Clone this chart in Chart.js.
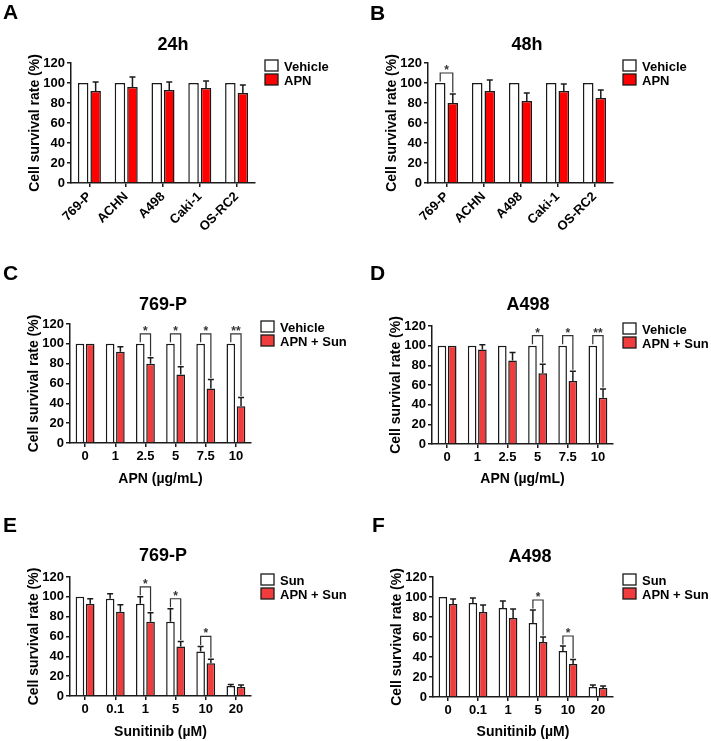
<!DOCTYPE html>
<html>
<head>
<meta charset="utf-8">
<script src="https://cdn.jsdelivr.net/npm/chart.js@4.4.1/dist/chart.umd.min.js"></script>
<style>
  body { margin: 0; background: #fff; }
  #wrap { position: relative; width: 711px; height: 741px; background: #fff; }
  canvas { position: absolute; }
</style>
</head>
<body>
<div id="wrap">
  <canvas id="cA" width="355" height="232" style="left:0;top:0"></canvas>
  <canvas id="cB" width="356" height="232" style="left:355px;top:0"></canvas>
  <canvas id="cC" width="355" height="253" style="left:0;top:235px"></canvas>
  <canvas id="cD" width="356" height="253" style="left:355px;top:235px"></canvas>
  <canvas id="cE" width="355" height="253" style="left:0;top:488px"></canvas>
  <canvas id="cF" width="356" height="253" style="left:355px;top:488px"></canvas>
</div>
<script>
// categories
var cellLines = ['769-P', 'ACHN', 'A498', 'Caki-1', 'OS-RC2'];
var apnDoses = ['0', '1', '2.5', '5', '7.5', '10'];
var sunDoses = ['0', '0.1', '1', '5', '10', '20'];
var yMin = 0, yMax = 120, yStep = 20;

// A - 24h
var veh24 = [100, 100, 100, 100, 100];
var veh24Err = [0, 0, 0, 0, 0];
var apn24 = [92, 96, 93, 95, 90];
var apn24Err = [9, 10, 8, 7, 8];
var sig24 = ['', '', '', '', ''];

// B - 48h
var veh48 = [100, 100, 100, 100, 100];
var veh48Err = [0, 0, 0, 0, 0];
var apn48 = [80, 92, 82, 92, 85];
var apn48Err = [9, 11, 8, 7, 8];
var sig48 = ['*', '', '', '', ''];

// C - 769-P, APN dose
var vehC = [100, 100, 100, 100, 100, 100];
var vehCErr = [0, 0, 0, 0, 0, 0];
var apnSunC = [100, 92, 80, 69, 55, 37];
var apnSunCErr = [0, 5, 6, 8, 9, 9];
var sigC = ['', '', '*', '*', '*', '**'];

// D - A498, APN dose
var vehD = [100, 100, 100, 100, 100, 100];
var vehDErr = [0, 0, 0, 0, 0, 0];
var apnSunD = [100, 96, 85, 72, 64, 47];
var apnSunDErr = [0, 5, 8, 9, 10, 9];
var sigD = ['', '', '', '*', '*', '**'];

// E - 769-P, sunitinib dose
var sunE = [100, 98, 93, 75, 45, 10];
var sunEErr = [0, 5, 7, 13, 5, 1.5];
var apnSunE = [93, 85, 75, 50, 33, 9];
var apnSunEErr = [5, 7, 9, 5, 4, 2];
var sigE = ['', '', '*', '*', '*', ''];

// F - A498, sunitinib dose
var sunF = [100, 94, 89, 74, 46, 10];
var sunFErr = [0, 5, 7, 13, 5, 2];
var apnSunF = [93, 85, 79, 55, 33, 9];
var apnSunFErr = [5, 7, 9, 5, 4.5, 2];
var sigF = ['', '', '', '*', '*', ''];

var FONT = "'Liberation Sans', Arial, Helvetica, sans-serif";
var INK = '#1a1a1a';

// error bars, brackets, letters, titles, legend
var extras = {
  id: 'extras',
  afterDatasetsDraw: function(chart) {
    var ctx = chart.ctx, y = chart.scales.y;
    var cfg = chart.options.panel;
    var tops = [];
    ctx.save();
    ctx.strokeStyle = INK;
    ctx.lineWidth = 1.5;
    chart.data.datasets.forEach(function(ds, i) {
      var meta = chart.getDatasetMeta(i);
      tops[i] = [];
      meta.data.forEach(function(bar, j) {
        var top = ds.data[j] + ds.errs[j];
        tops[i][j] = top;
        if (!ds.errs[j]) return;
        var yt = y.getPixelForValue(top);
        ctx.beginPath();
        ctx.moveTo(bar.x, bar.y);
        ctx.lineTo(bar.x, yt);
        ctx.moveTo(bar.x - 3, yt);
        ctx.lineTo(bar.x + 3, yt);
        ctx.stroke();
      });
    });
    // significance brackets
    var m0 = chart.getDatasetMeta(0), m1 = chart.getDatasetMeta(1);
    cfg.sig.forEach(function(s, j) {
      if (!s) return;
      var x0 = m0.data[j].x, x1 = m1.data[j].x;
      var t0 = tops[0][j], t1 = tops[1][j];
      var yb = y.getPixelForValue(Math.max(t0, t1)) - 10;
      var y0 = y.getPixelForValue(t0) - 1.5;
      var y1 = y.getPixelForValue(t1) - 1.5;
      ctx.lineWidth = 1.2;
      ctx.strokeStyle = '#333';
      ctx.beginPath();
      ctx.moveTo(x0, y0);
      ctx.lineTo(x0, yb);
      ctx.lineTo(x1, yb);
      ctx.lineTo(x1, y1);
      ctx.stroke();
      ctx.fillStyle = '#333';
      ctx.font = 'bold 12px ' + FONT;
      ctx.textAlign = 'center';
      ctx.textBaseline = 'alphabetic';
      ctx.fillText(s, (x0 + x1) / 2, yb + 1);
    });
    ctx.restore();
  },
  afterDraw: function(chart) {
    var ctx = chart.ctx, cfg = chart.options.panel, area = chart.chartArea;
    ctx.save();
    ctx.fillStyle = '#000';
    ctx.textBaseline = 'alphabetic';
    ctx.textAlign = 'left';
    ctx.font = 'bold 21px ' + FONT;
    ctx.fillText(cfg.letter, cfg.letterPos[0], cfg.letterPos[1]);
    ctx.textAlign = 'center';
    ctx.font = 'bold 18px ' + FONT;
    ctx.fillText(cfg.title, cfg.titlePos[0], cfg.titlePos[1]);
    // legend
    var bx = area.right + 10, by = area.top - 3;
    ctx.textAlign = 'left';
    ctx.font = 'bold 13px ' + FONT;
    chart.data.datasets.forEach(function(ds, i) {
      var yy = by + i * 14;
      ctx.fillStyle = ds.backgroundColor;
      ctx.fillRect(bx, yy, 13, 11);
      ctx.strokeStyle = INK;
      ctx.lineWidth = 1.3;
      ctx.strokeRect(bx, yy, 13, 11);
      ctx.fillStyle = '#000';
      ctx.fillText(ds.label, bx + 19, yy + 11);
    });
    ctx.restore();
  }
};

function makePanel(p) {
  var canvas = document.getElementById(p.id);
  var W = canvas.width, H = canvas.height;
  var a = p.area;
  var tickFont = { family: FONT, size: 13, weight: 'bold' };
  return new Chart(canvas, {
    type: 'bar',
    data: {
      labels: p.labels,
      datasets: [
        { label: p.names[0], data: p.values[0], errs: p.errs[0], backgroundColor: '#ffffff',
          borderColor: INK, borderWidth: 1.5, categoryPercentage: 0.68, barPercentage: 0.84 },
        { label: p.names[1], data: p.values[1], errs: p.errs[1], backgroundColor: p.red,
          borderColor: INK, borderWidth: 1.5, categoryPercentage: 0.68, barPercentage: 0.84 }
      ]
    },
    options: {
      responsive: false,
      animation: false,
      events: [],
      panel: p,
      layout: { padding: { left: a[0] - 60, top: a[1], right: W - a[2], bottom: 0 } },
      scales: {
        x: {
          grid: { display: true, drawOnChartArea: false, drawTicks: true, tickLength: 4,
                  offset: false, color: INK, lineWidth: 1.5 },
          border: { display: true, color: INK, width: 1.5 },
          ticks: { color: '#000', font: tickFont, padding: 2, autoSkip: false,
                   maxRotation: p.rotate, minRotation: p.rotate },
          title: { display: !!p.xTitle, text: p.xTitle, color: '#000', padding: 0,
                   font: { family: FONT, size: 14, weight: 'bold' } },
          afterFit: function(s) { s.height = H - a[3]; }
        },
        y: {
          min: yMin, max: yMax,
          grid: { display: true, drawOnChartArea: false, drawTicks: true, tickLength: 4,
                  color: INK, lineWidth: 1.5 },
          border: { display: true, color: INK, width: 1.5 },
          ticks: { stepSize: yStep, color: '#000', font: tickFont, padding: 2 },
          title: { display: true, text: 'Cell survival rate (%)', color: '#000',
                   padding: { top: 16, bottom: 0 },
                   font: { family: FONT, size: 14, weight: 'bold' } },
          afterFit: function(s) { s.width = 60; }
        }
      },
      plugins: { legend: { display: false }, tooltip: { enabled: false }, title: { display: false } }
    },
    plugins: [extras]
  });
}

var RED1 = '#ff0000', RED2 = '#f03c3c';

makePanel({ id: 'cA', letter: 'A', letterPos: [3, 19], title: '24h', titlePos: [173, 50],
  area: [71, 63, 255, 183], labels: cellLines, rotate: 45, xTitle: '',
  names: ['Vehicle', 'APN'], values: [veh24, apn24], errs: [veh24Err, apn24Err], sig: sig24, red: RED1 });
makePanel({ id: 'cB', letter: 'B', letterPos: [15, 20], title: '48h', titlePos: [172, 50],
  area: [73, 63, 258, 183], labels: cellLines, rotate: 45, xTitle: '',
  names: ['Vehicle', 'APN'], values: [veh48, apn48], errs: [veh48Err, apn48Err], sig: sig48, red: RED1 });
makePanel({ id: 'cC', letter: 'C', letterPos: [3, 45], title: '769-P', titlePos: [163, 75],
  area: [70, 89, 251, 208], labels: apnDoses, rotate: 0, xTitle: 'APN (\u00b5g/mL)',
  names: ['Vehicle', 'APN + Sun'], values: [vehC, apnSunC], errs: [vehCErr, apnSunCErr], sig: sigC, red: RED2 });
makePanel({ id: 'cD', letter: 'D', letterPos: [15, 45], title: 'A498', titlePos: [173, 75],
  area: [77, 91, 258, 209], labels: apnDoses, rotate: 0, xTitle: 'APN (\u00b5g/mL)',
  names: ['Vehicle', 'APN + Sun'], values: [vehD, apnSunD], errs: [vehDErr, apnSunDErr], sig: sigD, red: RED2 });
makePanel({ id: 'cE', letter: 'E', letterPos: [3, 44], title: '769-P', titlePos: [163, 73],
  area: [70, 89, 251, 208], labels: sunDoses, rotate: 0, xTitle: 'Sunitinib (\u00b5M)',
  names: ['Sun', 'APN + Sun'], values: [sunE, apnSunE], errs: [sunEErr, apnSunEErr], sig: sigE, red: RED2 });
makePanel({ id: 'cF', letter: 'F', letterPos: [17, 44], title: 'A498', titlePos: [175, 74],
  area: [78, 89, 258, 209], labels: sunDoses, rotate: 0, xTitle: 'Sunitinib (\u00b5M)',
  names: ['Sun', 'APN + Sun'], values: [sunF, apnSunF], errs: [sunFErr, apnSunFErr], sig: sigF, red: RED2 });
</script>
</body>
</html>
